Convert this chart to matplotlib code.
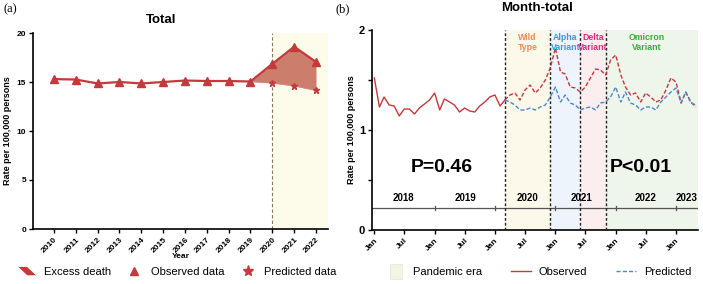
import numpy as np
import pandas as pd
import matplotlib
matplotlib.use("Agg")
import matplotlib.pyplot as plt
import matplotlib.dates as mdates
from matplotlib.patches import Polygon, Rectangle, Patch
from matplotlib.lines import Line2D
from matplotlib.legend_handler import HandlerPatch

plt.rcParams['font.family'] = ['Liberation Sans', 'DejaVu Sans']

# ---------------- data: panel (a) ----------------
years = [2010, 2011, 2012, 2013, 2014, 2015, 2016, 2017, 2018, 2019, 2020, 2021, 2022]
observed_year = [15.3, 15.25, 14.85, 15.0, 14.85, 15.0, 15.15, 15.1, 15.1, 15.05, 16.85, 18.6, 17.05]
pred_years = [2019, 2020, 2021, 2022]
predicted_year = [15.05, 14.9, 14.6, 14.15]

# ---------------- data: panel (b) ----------------
months = pd.date_range('2018-01-01', periods=65, freq='MS')
observed_month = [1.52, 1.23, 1.33, 1.25, 1.24, 1.14, 1.21, 1.21, 1.16, 1.22, 1.26, 1.30,
                  1.37, 1.20, 1.31, 1.28, 1.25, 1.18, 1.22, 1.19, 1.18, 1.24, 1.28, 1.33,
                  1.35, 1.24, 1.30,
                  1.35, 1.37, 1.30, 1.40, 1.45, 1.37, 1.42, 1.50, 1.62, 1.82, 1.58, 1.56,
                  1.43, 1.42, 1.38, 1.43, 1.52, 1.61, 1.60, 1.55, 1.70, 1.75, 1.55, 1.43,
                  1.35, 1.37, 1.28, 1.37, 1.33, 1.28, 1.30, 1.40, 1.52, 1.48, 1.27, 1.38,
                  1.28, 1.23]
predicted_month = [1.30, 1.28, 1.25, 1.20, 1.20, 1.22, 1.20, 1.23, 1.25, 1.33, 1.43, 1.28,
                   1.35, 1.27, 1.25, 1.20, 1.22, 1.23, 1.20, 1.27, 1.28, 1.33, 1.43, 1.28,
                   1.38, 1.27, 1.25, 1.20, 1.23, 1.23, 1.20, 1.28, 1.33, 1.38, 1.42, 1.27,
                   1.38, 1.27, 1.25]
pandemic_start_index = 26
era_bounds = ['2020-03-01', '2020-12-01', '2021-06-01', '2021-11-01']
era_names = ['Wild\nType', 'Alpha\nVariant', 'Delta\nVariant', 'Omicron\nVariant']
era_text_colors = ['#ea8a5c', '#3d98d8', '#e0287c', '#3aab3a']
era_fill_colors = ['#fcf9ea', '#edf4fb', '#fcedef', '#eef5ea']
timeline_years = ['2018', '2019', '2020', '2021', '2022', '2023']
timeline_label_dates = ['2018-06-25', '2019-07-08', '2020-07-14', '2021-06-06', '2022-07-01', '2023-03-08']
timeline_tick_dates = ['2019-01-01', '2020-01-01', '2021-01-01', '2022-01-01', '2023-01-01']

RED = '#c3393c'
BLUE = '#4d88c9'

fig = plt.figure(figsize=(7.03, 2.84), dpi=100)

# ================= panel (a) =================
axa = fig.add_axes([33/703, 1-229/284, (328-33)/703, (229-33)/284])
axa.axvspan(2020, 2022.6, color='#fdfbe9', zorder=0, lw=0)
axa.axvline(2020, color='#8a7565', lw=0.8, ls=(0, (3, 2)), zorder=1)
fill_obs = observed_year[years.index(2019):]
axa.fill_between(pred_years, predicted_year, fill_obs, color='#cd7d6c', lw=0, zorder=2)
axa.plot(pred_years, predicted_year, color='#d08a80', lw=0.8, zorder=3)
axa.plot(pred_years[1:], predicted_year[1:], ls='none', marker='*', ms=5, color=RED, zorder=4)
axa.plot(years, observed_year, color=RED, lw=1.6, marker='^', ms=6, zorder=5)
axa.set_xlim(2009.04, 2022.55)
axa.set_ylim(0, 20)
axa.set_xticks(years)
axa.set_xticklabels([str(y) for y in years], rotation=45, ha='right', rotation_mode='anchor',
                    fontsize=6, fontweight='bold')
axa.set_yticks([0, 5, 10, 15, 20])
axa.set_yticklabels(['0', '5', '10', '15', '20'], fontsize=6, fontweight='bold')
axa.set_ylabel('Rate per 100,000 persons', fontsize=6.5, fontweight='bold', labelpad=3)
axa.set_xlabel('Year', fontsize=6, fontweight='bold', labelpad=-1)
for s in ['top', 'right']:
    axa.spines[s].set_visible(False)
for s in ['left', 'bottom']:
    axa.spines[s].set_linewidth(1.2)
axa.tick_params(length=3, width=1, pad=2)
fig.text(161/703, 1-20/284, 'Total', ha='center', va='center', fontsize=9.5, fontweight='bold')

# ================= panel (b) =================
axb = fig.add_axes([372/703, 1-230/284, (698-372)/703, 200/284])
xmin = pd.Timestamp('2017-12-18')
xmax = pd.Timestamp('2023-05-14')
bounds = [pd.Timestamp(d) for d in era_bounds] + [xmax]
for i in range(4):
    axb.axvspan(bounds[i], bounds[i+1], color=era_fill_colors[i], lw=0, zorder=0)
    mid = bounds[i] + (bounds[i+1] - bounds[i]) / 2
    if i == 3:
        mid = pd.Timestamp('2022-07-10')
    axb.text(mid, 1.97, era_names[i], ha='center', va='top', fontsize=6.3, fontweight='bold',
             color=era_text_colors[i], linespacing=1.1, zorder=6)
for i in range(4):
    axb.axvline(bounds[i], color='#222222', lw=1.0, ls=(0, (2, 1.5)), zorder=3)

k = pandemic_start_index
axb.plot(months[:k+1], observed_month[:k+1], color=RED, lw=1.0, zorder=4)
axb.plot(months[k:], observed_month[k:], color=RED, lw=1.0, ls=(0, (3, 1.5)), zorder=4)
axb.plot(months[k:], predicted_month, color=BLUE, lw=1.0, ls=(0, (3, 1.5)), zorder=4)

# timeline
axb.axhline(0.22, color='#555555', lw=0.9, zorder=2)
for d in timeline_tick_dates:
    axb.plot([pd.Timestamp(d)] * 2, [0.20, 0.245], color='#555555', lw=0.9, zorder=2)
for lbl, d in zip(timeline_years, timeline_label_dates):
    axb.text(pd.Timestamp(d), 0.32, lbl, ha='center', va='center', fontsize=7, fontweight='bold', zorder=6)

axb.text(pd.Timestamp('2019-02-15'), 0.62, 'P=0.46', ha='center', va='center', fontsize=14, fontweight='bold')
axb.text(pd.Timestamp('2022-06-01'), 0.62, 'P<0.01', ha='center', va='center', fontsize=14, fontweight='bold')

axb.set_xlim(xmin, xmax)
axb.set_ylim(0, 2)
axb.xaxis.set_major_locator(mdates.MonthLocator(bymonth=[1, 7]))
axb.xaxis.set_major_formatter(mdates.DateFormatter('%b'))
plt.setp(axb.get_xticklabels(), rotation=45, ha='right', rotation_mode='anchor', fontsize=6, fontweight='bold')
axb.set_yticks([0, 1, 2])
axb.set_yticklabels(['0', '1', '2'], fontsize=8, fontweight='bold')
axb.set_yticks([0.5, 1.5], minor=True)
axb.set_ylabel('Rate per 100,000 persons', fontsize=6.5, fontweight='bold', labelpad=2)
for s in ['top', 'right']:
    axb.spines[s].set_visible(False)
for s in ['left', 'bottom']:
    axb.spines[s].set_linewidth(1.2)
axb.tick_params(which='both', length=3, width=1, pad=2)
fig.text(537/703, 1-8/284, 'Month-total', ha='center', va='center', fontsize=9.5, fontweight='bold')

fig.text(4/703, 1-9/284, '(a)', fontsize=9, family='Liberation Serif', va='center')
fig.text(336/703, 1-9/284, '(b)', fontsize=9, family='Liberation Serif', va='center')

# ================= legends =================
def excess_patch(legend, orig_handle, xdescent, ydescent, width, height, fontsize):
    x0, y0 = -xdescent, -ydescent
    return Polygon([[x0, y0 + height * 1.1], [x0 + width * 0.5, y0 + height * 1.1],
                    [x0 + width, y0 - height * 0.1], [x0 + width * 0.5, y0 - height * 0.1]],
                   closed=True)

def era_patch(legend, orig_handle, xdescent, ydescent, width, height, fontsize):
    x0, y0 = -xdescent, -ydescent
    return Rectangle((x0 + width * 0.25, y0 - height * 0.45), width * 0.6, height * 1.9)

h_ex = Patch(facecolor=RED, edgecolor='white', lw=0.6)
h_obs = Line2D([], [], ls='none', marker='^', ms=6, color=RED)
h_pred = Line2D([], [], ls='none', marker='*', ms=8, color=RED)
leg_a = fig.legend([h_ex, h_obs, h_pred], ['Excess death', 'Observed data', 'Predicted data'],
                   loc='center', bbox_to_anchor=(177/703, 1-272/284), ncol=3, frameon=False,
                   fontsize=8, handlelength=1.8, handletextpad=0.6, columnspacing=1.2,
                   handler_map={Patch: HandlerPatch(patch_func=excess_patch)})

h_era = Patch(facecolor='#f2f4e6', edgecolor='#e4e6d4', lw=0.5)
h_obl = Line2D([], [], color=RED, lw=1.0)
h_prl = Line2D([], [], color=BLUE, lw=1.0, ls=(0, (3, 1.5)))
leg_b = fig.legend([h_era, h_obl, h_prl], ['Pandemic era', 'Observed', 'Predicted'],
                   loc='center', bbox_to_anchor=(538/703, 1-272/284), ncol=3, frameon=False,
                   fontsize=8, handlelength=1.8, handletextpad=0.7, columnspacing=2.6,
                   handler_map={Patch: HandlerPatch(patch_func=era_patch)})

fig.savefig('out.png', dpi=100)
